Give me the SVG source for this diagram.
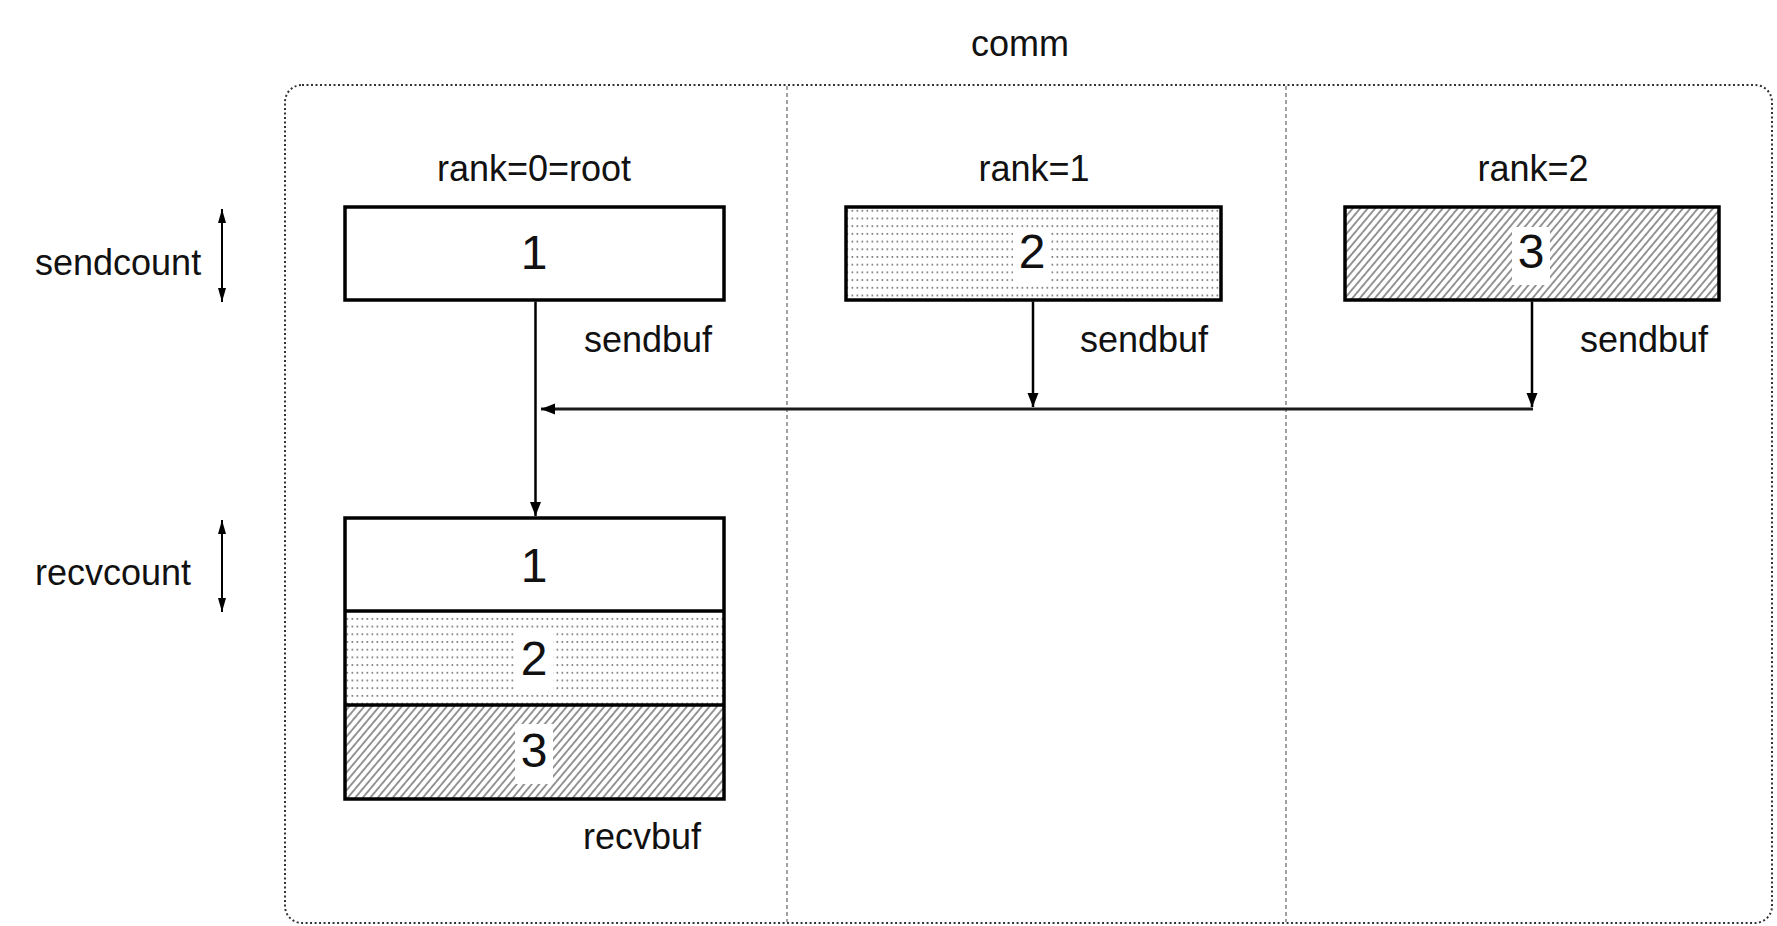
<svg xmlns="http://www.w3.org/2000/svg" width="1777" height="926" viewBox="0 0 1777 926">
  <style>
    .lbl { font-family: "Liberation Sans", Arial, sans-serif; font-size: 36px; fill: #111; }
    .mid { text-anchor: middle; }
    .dig { font-family: "Liberation Sans", Arial, sans-serif; font-size: 48px; fill: #111; text-anchor: middle; }
    .box { stroke: #000; stroke-width: 3.5; }
    .frame { fill: none; stroke: #333; stroke-width: 2; stroke-dasharray: 2 2.5; }
    .divider { stroke: #8a8a8a; stroke-width: 1.6; stroke-dasharray: 4 3; }
    .conn { stroke: #000; stroke-width: 2.5; fill: none; }
    .bus { stroke: #1a1a1a; stroke-width: 3; fill: none; }
    .dim { stroke: #000; stroke-width: 2; fill: none; }
    .knock { fill: #fff; }
  </style>
  <defs>
    <pattern id="dots" patternUnits="userSpaceOnUse" width="5" height="7.7">
      <rect x="1.5" y="2" width="1.7" height="1.7" fill="#7a7a7a"/>
    </pattern>
    <pattern id="hatch" patternUnits="userSpaceOnUse" width="5.75" height="12" patternTransform="rotate(40)">
      <line x1="2.9" y1="0" x2="2.9" y2="12" stroke="#505050" stroke-width="1.2"/>
    </pattern>
    <marker id="arr" markerUnits="userSpaceOnUse" markerWidth="16" markerHeight="12" refX="14" refY="6" orient="auto">
      <path d="M0,0.5 L14,6 L0,11.5 z" fill="#000"/>
    </marker>
    <marker id="darr" markerUnits="userSpaceOnUse" markerWidth="16" markerHeight="10" refX="14" refY="4.5" orient="auto-start-reverse">
      <path d="M0,0.5 L14,4.5 L0,8.5 z" fill="#000"/>
    </marker>
  </defs>

  <rect width="1777" height="926" fill="#fff"/>

  <g id="comm">
    <rect class="frame" x="285" y="85" width="1487" height="838" rx="17"/>
    <line class="divider" x1="787" y1="86" x2="787" y2="922"/>
    <line class="divider" x1="1286" y1="86" x2="1286" y2="922"/>
    <text class="lbl mid" x="1020" y="56">comm</text>
  </g>

  <g id="sendcount">
    <text class="lbl" x="35" y="275">sendcount</text>
  </g>
  <g id="recvcount">
    <text class="lbl" x="35" y="585">recvcount</text>
  </g>

  <g id="rank0-send">
    <text class="lbl mid" x="534" y="181">rank=0=root</text>
    <rect class="box" x="345" y="207" width="379" height="93" fill="#fff"/>
    <text class="dig" x="534" y="269">1</text>
    <text class="lbl" x="584" y="352">sendbuf</text>
  </g>

  <g id="rank1-send">
    <text class="lbl mid" x="1034" y="181">rank=1</text>
    <rect class="box" x="846" y="207" width="375" height="93" fill="url(#dots)"/>
    <rect class="knock" x="1013" y="229" width="38" height="56"/>
    <text class="dig" x="1032" y="268">2</text>
    <text class="lbl" x="1080" y="352">sendbuf</text>
  </g>

  <g id="rank2-send">
    <text class="lbl mid" x="1533" y="181">rank=2</text>
    <rect class="box" x="1345" y="207" width="374" height="93" fill="url(#hatch)"/>
    <rect class="knock" x="1512" y="227" width="38" height="58"/>
    <text class="dig" x="1531" y="268">3</text>
    <text class="lbl" x="1580" y="352">sendbuf</text>
  </g>

  <g id="rank0-recv">
    <rect x="345" y="518" width="379" height="93" fill="#fff"/>
    <rect x="345" y="611" width="379" height="94" fill="url(#dots)"/>
    <rect x="345" y="705" width="379" height="94" fill="url(#hatch)"/>
    <rect class="knock" x="515" y="633" width="38" height="58"/>
    <rect class="knock" x="515" y="724" width="38" height="60"/>
    <rect class="box" x="345" y="518" width="379" height="281" fill="none"/>
    <line class="box" x1="345" y1="611" x2="724" y2="611"/>
    <line class="box" x1="345" y1="705" x2="724" y2="705"/>
    <text class="dig" x="534" y="582">1</text>
    <text class="dig" x="534" y="675">2</text>
    <text class="dig" x="534" y="767">3</text>
    <text class="lbl" x="583" y="849">recvbuf</text>
  </g>

  <g id="connectors">
    <line class="dim" x1="222" y1="209" x2="222" y2="302" marker-start="url(#darr)" marker-end="url(#darr)"/>
    <line class="dim" x1="222" y1="520" x2="222" y2="612" marker-start="url(#darr)" marker-end="url(#darr)"/>
    <line class="conn" x1="535.5" y1="301.5" x2="535.5" y2="516" marker-end="url(#arr)"/>
    <line class="conn" x1="1033" y1="301.5" x2="1033" y2="407" marker-end="url(#arr)"/>
    <line class="conn" x1="1532" y1="301.5" x2="1532" y2="407" marker-end="url(#arr)"/>
    <line class="bus" x1="1533" y1="409" x2="541" y2="409" marker-end="url(#arr)"/>
  </g>
</svg>
